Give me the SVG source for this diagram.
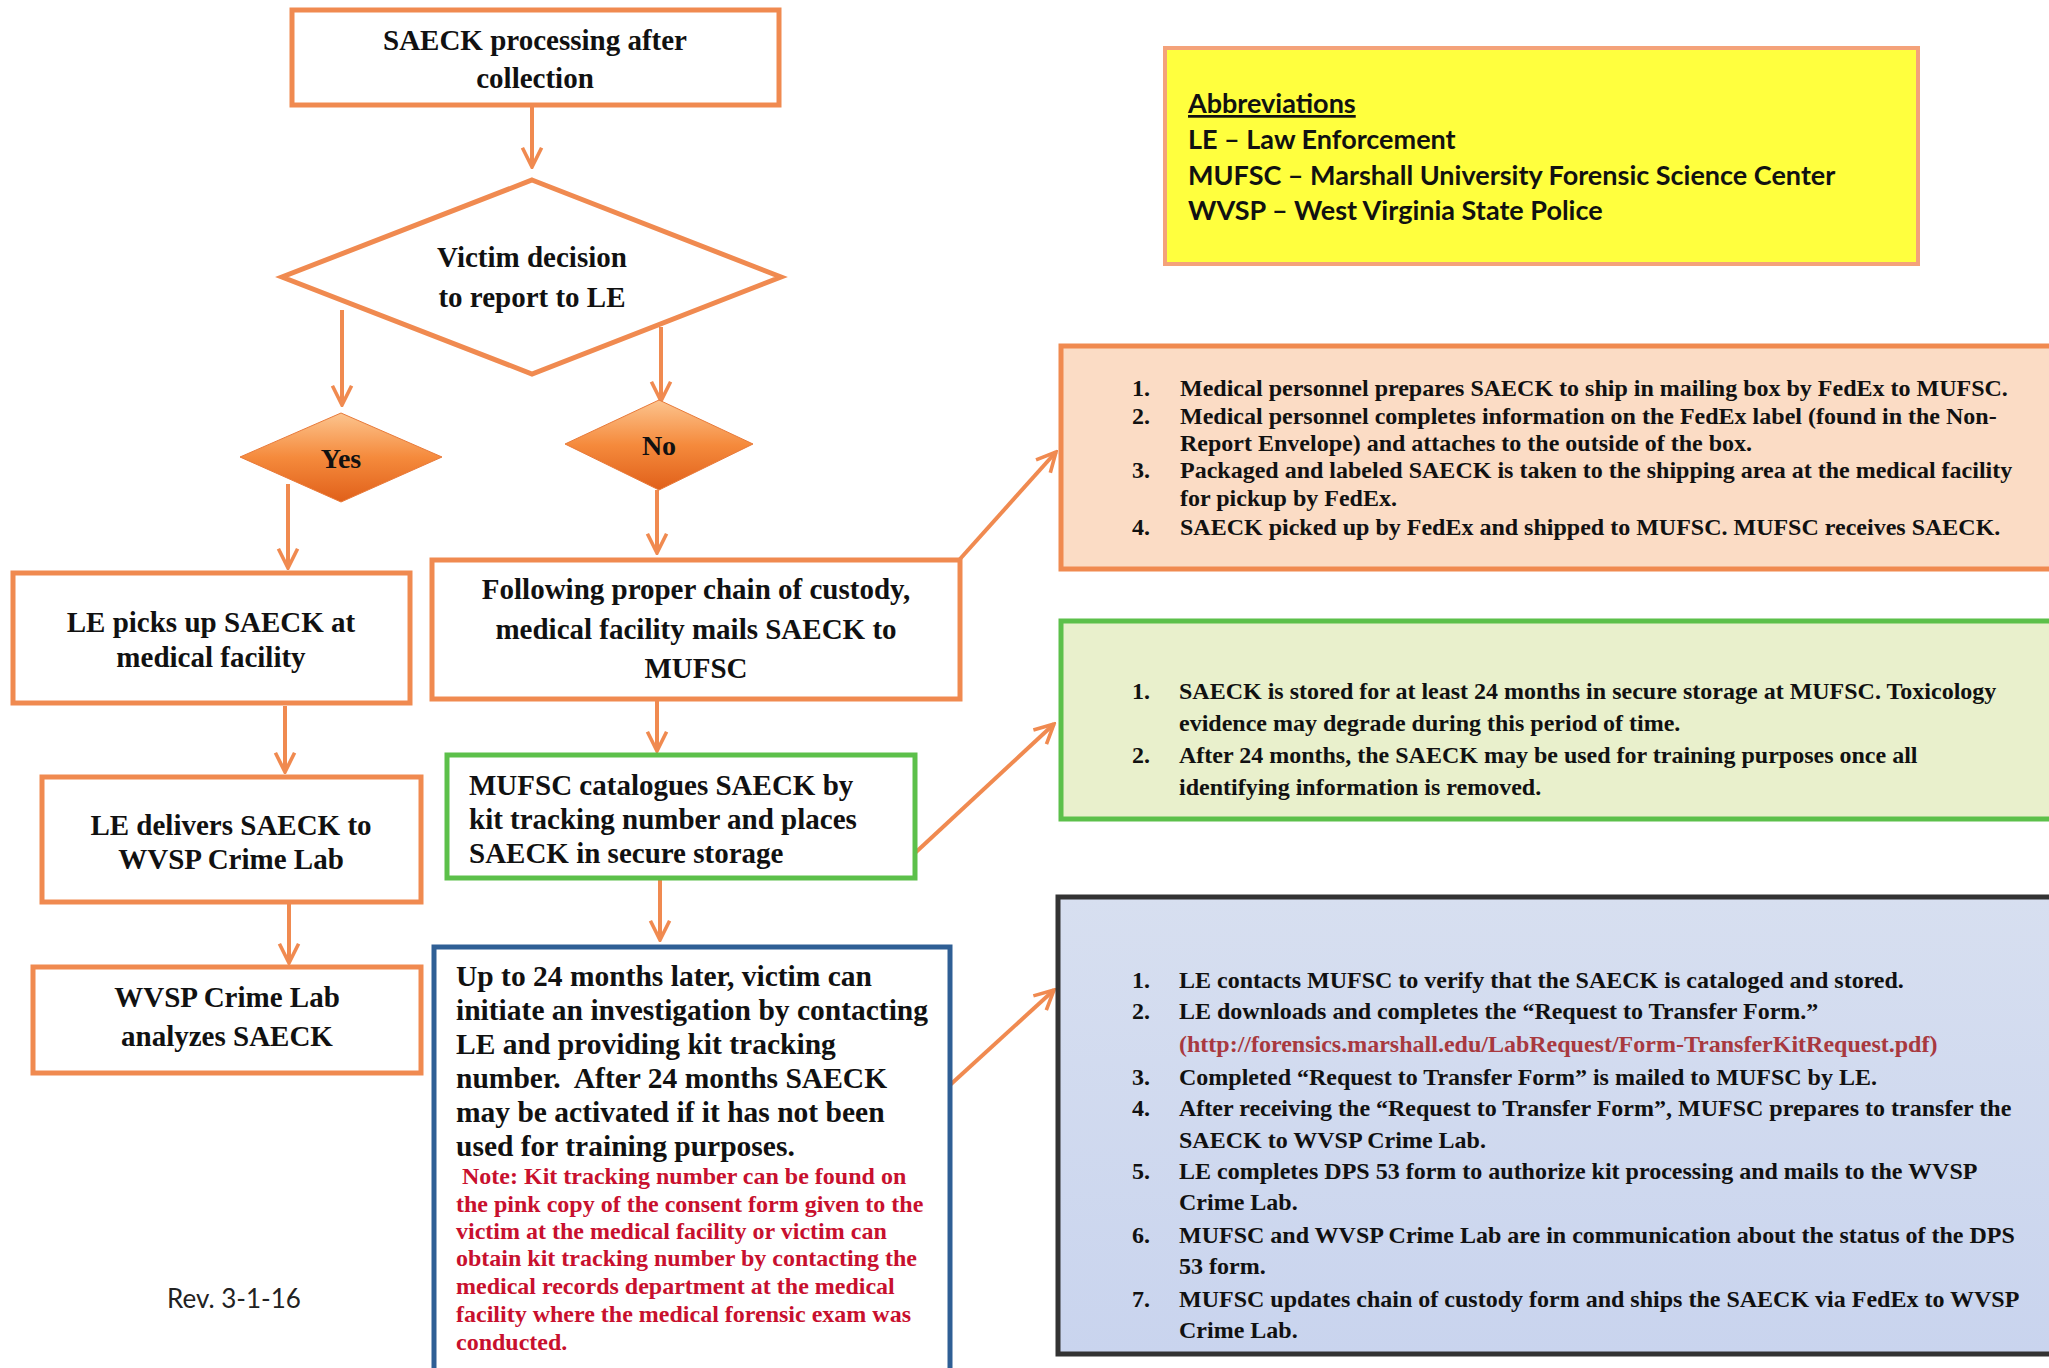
<svg xmlns="http://www.w3.org/2000/svg" width="2049" height="1368" viewBox="0 0 2049 1368">
<style>
.box{fill:#fff;stroke:#f08a50;stroke-width:5}
.gbox{fill:#fff;stroke:#5cc04a;stroke-width:5}
.bbox{fill:#fff;stroke:#2f5f95;stroke-width:5}
.t{font-family:"Liberation Serif",serif;font-weight:bold;font-size:29px;fill:#111}
.c{text-anchor:middle}
.n{font-family:"Liberation Serif",serif;font-weight:bold;font-size:24px;fill:#c8102e}
.s{font-family:"Liberation Serif",serif;font-weight:bold;font-size:24px;fill:#111}
.ab{font-family:Lato,"Open Sans",sans-serif;font-weight:bold;font-size:27px;fill:#111}
.con{fill:none;stroke:#f08a50;stroke-width:4;marker-end:url(#arr)}
</style>
<defs>
<marker id="arr" viewBox="0 0 20 20" refX="18" refY="10" markerWidth="6" markerHeight="6" markerUnits="strokeWidth" orient="auto">
<path d="M2,2 L18,10 L2,18" fill="none" stroke="#f08a50" stroke-width="3"/>
</marker>
<linearGradient id="og" x1="0" y1="0" x2="0" y2="1">
<stop offset="0" stop-color="#fcc48e"/>
<stop offset="0.5" stop-color="#f58a3c"/>
<stop offset="1" stop-color="#e0601a"/>
</linearGradient>
<linearGradient id="blg" x1="0" y1="0" x2="0" y2="1">
<stop offset="0" stop-color="#d7dff0"/>
<stop offset="1" stop-color="#c9d4ee"/>
</linearGradient>
</defs>
<rect width="2049" height="1368" fill="#fff"/>

<g id="connectors">
<path class="con" d="M532,105 V167"/>
<path class="con" d="M342,310 V405"/>
<path class="con" d="M661,327 V401"/>
<path class="con" d="M288,484 V568"/>
<path class="con" d="M657,490 V553"/>
<path class="con" d="M285,706 V772"/>
<path class="con" d="M289,902 V963"/>
<path class="con" d="M657,700 V751"/>
<path class="con" d="M660,878 V940"/>
<path class="con" d="M960,559 L1056,452"/>
<path class="con" d="M915,853 L1054,724"/>
<path class="con" d="M950,1085 L1054,990"/>
</g>

<g id="n-start">
<rect class="box" x="292" y="10" width="487" height="95"/>
<text class="t c" x="535" y="50">SAECK processing after</text>
<text class="t c" x="535" y="88">collection</text>
</g>

<g id="n-decision">
<polygon class="box" points="532,180 781,277 532,374 282,277" stroke-linejoin="miter"/>
<text class="t c" x="532" y="267">Victim decision</text>
<text class="t c" x="532" y="307">to report to LE</text>
</g>

<g id="n-yes">
<polygon points="341,413 442,457 341,502 240,457" fill="url(#og)" stroke="#e87a3a" stroke-width="1"/>
<text class="t c" x="341" y="468" style="font-size:28px">Yes</text>
</g>

<g id="n-no">
<polygon points="659,400 753,444 659,490 565,444" fill="url(#og)" stroke="#e87a3a" stroke-width="1"/>
<text class="t c" x="659" y="455" style="font-size:28px">No</text>
</g>

<g id="n-le-picks">
<rect class="box" x="13" y="573" width="397" height="130"/>
<text class="t c" x="211" y="632">LE picks up SAECK at</text>
<text class="t c" x="211" y="667">medical facility</text>
</g>

<g id="n-mail">
<rect class="box" x="432" y="560" width="528" height="139"/>
<text class="t c" x="696" y="599">Following proper chain of custody,</text>
<text class="t c" x="696" y="639">medical facility mails SAECK to</text>
<text class="t c" x="696" y="678">MUFSC</text>
</g>

<g id="n-le-delivers">
<rect class="box" x="42" y="777" width="379" height="125"/>
<text class="t c" x="231" y="835">LE delivers SAECK to</text>
<text class="t c" x="231" y="869">WVSP Crime Lab</text>
</g>

<g id="n-analyzes">
<rect class="box" x="33" y="967" width="388" height="106"/>
<text class="t c" x="227" y="1007">WVSP Crime Lab</text>
<text class="t c" x="227" y="1046">analyzes SAECK</text>
</g>

<g id="n-catalogue">
<rect class="gbox" x="447" y="755" width="468" height="123"/>
<text class="t" x="469" y="795">MUFSC catalogues SAECK by</text>
<text class="t" x="469" y="829">kit tracking number and places</text>
<text class="t" x="469" y="863">SAECK in secure storage</text>
</g>

<g id="n-later">
<rect class="bbox" x="434" y="947" width="516" height="430"/>
<text class="t" x="456" y="986" style="font-size:29.5px">Up to 24 months later, victim can</text>
<text class="t" x="456" y="1020" style="font-size:29.5px">initiate an investigation by contacting</text>
<text class="t" x="456" y="1054" style="font-size:29.5px">LE and providing kit tracking</text>
<text class="t" x="456" y="1088" style="font-size:29.5px" xml:space="preserve">number.  After 24 months SAECK</text>
<text class="t" x="456" y="1122" style="font-size:29.5px">may be activated if it has not been</text>
<text class="t" x="456" y="1156" style="font-size:29.5px">used for training purposes.</text>
<text class="n" x="462" y="1184">Note: Kit tracking number can be found on</text>
<text class="n" x="456" y="1212">the pink copy of the consent form given to the</text>
<text class="n" x="456" y="1239">victim at the medical facility or victim can</text>
<text class="n" x="456" y="1266">obtain kit tracking number by contacting the</text>
<text class="n" x="456" y="1294">medical records department at the medical</text>
<text class="n" x="456" y="1322">facility where the medical forensic exam was</text>
<text class="n" x="456" y="1350">conducted.</text>
</g>

<g id="n-abbrev">
<rect x="1165" y="48" width="753" height="216" fill="#ffff3e" stroke="#f4a27a" stroke-width="4"/>
<text class="ab" x="1188" y="113" text-decoration="underline">Abbreviations</text>
<text class="ab" x="1188" y="149">LE – Law Enforcement</text>
<text class="ab" x="1188" y="185">MUFSC – Marshall University Forensic Science Center</text>
<text class="ab" x="1188" y="220">WVSP – West Virginia State Police</text>
</g>

<g id="n-info-mail">
<rect x="1061" y="346" width="1000" height="223" fill="#fbdcc5" stroke="#f08a50" stroke-width="5"/>
<text class="s" x="1132" y="396">1.</text>
<text class="s" x="1180" y="396">Medical personnel prepares SAECK to ship in mailing box by FedEx to MUFSC.</text>
<text class="s" x="1132" y="424">2.</text>
<text class="s" x="1180" y="424">Medical personnel completes information on the FedEx label (found in the Non-</text>
<text class="s" x="1180" y="451">Report Envelope) and attaches to the outside of the box.</text>
<text class="s" x="1132" y="478">3.</text>
<text class="s" x="1180" y="478">Packaged and labeled SAECK is taken to the shipping area at the medical facility</text>
<text class="s" x="1180" y="506">for pickup by FedEx.</text>
<text class="s" x="1132" y="535">4.</text>
<text class="s" x="1180" y="535">SAECK picked up by FedEx and shipped to MUFSC. MUFSC receives SAECK.</text>
</g>

<g id="n-info-storage">
<rect x="1061" y="621" width="1000" height="198" fill="#e9f0cc" stroke="#5cc04a" stroke-width="5"/>
<text class="s" x="1132" y="699">1.</text>
<text class="s" x="1179" y="699">SAECK is stored for at least 24 months in secure storage at MUFSC. Toxicology</text>
<text class="s" x="1179" y="731">evidence may degrade during this period of time.</text>
<text class="s" x="1132" y="763">2.</text>
<text class="s" x="1179" y="763">After 24 months, the SAECK may be used for training purposes once all</text>
<text class="s" x="1179" y="795">identifying information is removed.</text>
</g>

<g id="n-info-transfer">
<rect x="1058" y="897" width="1003" height="457" fill="url(#blg)" stroke="#333" stroke-width="5"/>
<text class="s" x="1132" y="988">1.</text>
<text class="s" x="1179" y="988">LE contacts MUFSC to verify that the SAECK is cataloged and stored.</text>
<text class="s" x="1132" y="1019">2.</text>
<text class="s" x="1179" y="1019">LE downloads and completes the “Request to Transfer Form.”</text>
<text class="s" x="1179" y="1052" style="fill:#a8393f">(http://forensics.marshall.edu/LabRequest/Form-TransferKitRequest.pdf)</text>
<text class="s" x="1132" y="1085">3.</text>
<text class="s" x="1179" y="1085">Completed “Request to Transfer Form” is mailed to MUFSC by LE.</text>
<text class="s" x="1132" y="1116">4.</text>
<text class="s" x="1179" y="1116">After receiving the “Request to Transfer Form”, MUFSC prepares to transfer the</text>
<text class="s" x="1179" y="1148">SAECK to WVSP Crime Lab.</text>
<text class="s" x="1132" y="1179">5.</text>
<text class="s" x="1179" y="1179">LE completes DPS 53 form to authorize kit processing and mails to the WVSP</text>
<text class="s" x="1179" y="1210">Crime Lab.</text>
<text class="s" x="1132" y="1243">6.</text>
<text class="s" x="1179" y="1243">MUFSC and WVSP Crime Lab are in communication about the status of the DPS</text>
<text class="s" x="1179" y="1274">53 form.</text>
<text class="s" x="1132" y="1307">7.</text>
<text class="s" x="1179" y="1307">MUFSC updates chain of custody form and ships the SAECK via FedEx to WVSP</text>
<text class="s" x="1179" y="1338">Crime Lab.</text>
</g>

<text x="167" y="1308" style="font-family:Lato,'Open Sans',sans-serif;font-size:26px;fill:#222">Rev. 3-1-16</text>
</svg>
